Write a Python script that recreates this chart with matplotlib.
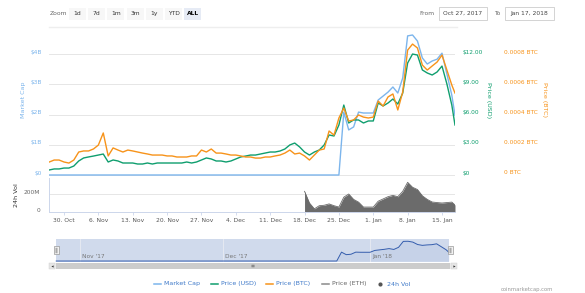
import matplotlib
matplotlib.use('Agg')
import matplotlib.pyplot as plt
import matplotlib.transforms as mtransforms
from matplotlib.patches import Rectangle
import numpy as np
import pandas as pd

plt.rcParams['font.family'] = ['DejaVu Sans']

W, H = 585, 293

# ---------------- data ----------------
dates = list(pd.date_range('2017-10-27', periods=83, freq='D')) + [pd.Timestamp('2018-01-17 15:30')]

price_usd = [0.50, 0.60, 0.60, 0.69, 0.69, 0.89, 1.39, 1.69, 1.79, 1.88,
             1.98, 2.08, 1.29, 1.49, 1.39, 1.19, 1.19, 1.19, 1.09, 1.09,
             1.19, 1.09, 1.19, 1.19, 1.19, 1.19, 1.19, 1.19, 1.29, 1.19,
             1.29, 1.49, 1.69, 1.59, 1.39, 1.39, 1.29, 1.39, 1.59, 1.79,
             1.88, 1.98, 1.98, 2.08, 2.18, 2.28, 2.28, 2.38, 2.58, 2.98,
             3.17, 2.78, 2.28, 1.98, 2.28, 2.48, 2.98, 3.97, 3.87, 4.96,
             6.94, 5.16, 5.46, 5.46, 5.16, 5.36, 5.36, 7.14, 6.85, 7.14,
             7.54, 7.04, 8.13, 11.11, 12.00, 11.90, 10.42, 10.12, 9.92, 10.22,
             10.81, 9.03, 6.94, 4.96]

price_btc = [0.000086, 0.000099, 0.000099, 0.000086, 0.000079, 0.000099, 0.000152, 0.000159, 0.000159, 0.000172,
             0.000198, 0.000278, 0.000126, 0.000179, 0.000165, 0.000152, 0.000165, 0.000159, 0.000152, 0.000145,
             0.000139, 0.000132, 0.000132, 0.000132, 0.000126, 0.000126, 0.000119, 0.000119, 0.000119, 0.000126,
             0.000126, 0.000165, 0.000152, 0.000172, 0.000145, 0.000145, 0.000139, 0.000132, 0.000132, 0.000126,
             0.000119, 0.000119, 0.000112, 0.000112, 0.000119, 0.000119, 0.000126, 0.000132, 0.000145, 0.000165,
             0.000139, 0.000145, 0.000126, 0.000099, 0.000132, 0.000165, 0.000172, 0.000291, 0.000264, 0.000377,
             0.000443, 0.000357, 0.000364, 0.000397, 0.000383, 0.000377, 0.000383, 0.000489, 0.000456, 0.000516,
             0.000536, 0.000430, 0.000549, 0.000826, 0.000866, 0.000840, 0.000727, 0.000694, 0.000721, 0.000747,
             0.000793, 0.000694, 0.000595, 0.000542]

market_cap_b = [0.0] * 60 + [2.08, 1.49, 1.59, 2.08, 2.05, 2.05, 2.05, 2.48, 2.61, 2.74,
                             2.91, 2.71, 3.21, 4.60, 4.63, 4.43, 3.87, 3.67, 3.77, 3.83,
                             4.03, 3.34, 2.64, 1.98]

volume_m = [np.nan] * 52 + [230, 100, 35, 70, 75, 90, 70, 55, 165, 200,
                            140, 110, 55, 55, 55, 120, 145, 170, 185, 170,
                            230, 330, 275, 250, 180, 140, 111, 105, 100, 105,
                            110, 78]

week_ticks = list(pd.date_range('2017-10-30', periods=12, freq='7D'))
week_labels = ['30. Oct', '6. Nov', '13. Nov', '20. Nov', '27. Nov', '4. Dec',
               '11. Dec', '18. Dec', '25. Dec', '1. Jan', '8. Jan', '15. Jan']
mc_ticks = [0, 1, 2, 3, 4]
mc_labels = ['$0', '$1B', '$2B', '$3B', '$4B']
usd_ticks = [0, 3, 6, 9, 12]
usd_labels = ['$0', '$3.00', '$6.00', '$9.00', '$12.00']
btc_ticks = [0, 0.0002, 0.0004, 0.0006, 0.0008]
btc_labels = ['0 BTC', '0.0002 BTC', '0.0004 BTC', '0.0006 BTC', '0.0008 BTC']
vol_ticks = [0, 200]
vol_labels = ['0', '200M']
nav_months = [pd.Timestamp('2017-11-01'), pd.Timestamp('2017-12-01'), pd.Timestamp('2018-01-01')]
nav_month_labels = ["Nov '17", "Dec '17", "Jan '18"]
zoom_buttons = ['1d', '7d', '1m', '3m', '1y', 'YTD', 'ALL']
legend_items = ['Market Cap', 'Price (USD)', 'Price (BTC)', 'Price (ETH)', '24h Vol']

# ---------------- style ----------------
C_MC = '#7cb5ec'
C_USD = '#0f9e6e'
C_BTC = '#f7931a'
C_ETH = '#8a8a8a'
C_VOL = '#6b6b6b'
C_GRID = '#e6e6e6'
C_AXIS = '#ccd6eb'
C_LEG = '#3d78c8'
FS = 4.3

main_xlim = (pd.Timestamp('2017-10-26 22:40'), pd.Timestamp('2018-01-17 15:36'))
nav_xlim = (pd.Timestamp('2017-10-25 11:30'), pd.Timestamp('2018-01-19 07:00'))

fig = plt.figure(figsize=(W / 100, H / 100), dpi=100)


def ax_px(x0, y0, x1, y1, **kw):
    return fig.add_axes([x0 / W, 1 - y1 / H, (x1 - x0) / W, (y1 - y0) / H], **kw)


def lift_labels(ax, px=2.5):
    off = mtransforms.ScaledTranslation(0, px / 100, fig.dpi_scale_trans)
    for lab in ax.get_yticklabels():
        lab.set_transform(lab.get_transform() + off)


ov = fig.add_axes([0, 0, 1, 1], zorder=0)
ov.set_xlim(0, W)
ov.set_ylim(H, 0)
ov.axis('off')

# top controls
ov.text(50, 13.5, 'Zoom', fontsize=FS, color='#666666', ha='left', va='center')
for i, lab in enumerate(zoom_buttons):
    bx = 69 + i * 19.2
    sel = lab == 'ALL'
    ov.add_patch(Rectangle((bx, 7.5), 17, 12, facecolor='#e6ebf5' if sel else '#f7f7f7',
                           edgecolor='none'))
    ov.text(bx + 8.5, 13.6, lab, fontsize=FS, color='#000000' if sel else '#333333',
            fontweight='bold' if sel else 'normal', ha='center', va='center')
ov.text(435, 13.5, 'From', fontsize=FS, color='#666666', ha='right', va='center')
ov.add_patch(Rectangle((439, 7), 48, 12.5, facecolor='white', edgecolor='#cccccc', lw=0.6))
ov.text(463, 13.5, 'Oct 27, 2017', fontsize=FS, color='#444444', ha='center', va='center')
ov.text(497, 13.5, 'To', fontsize=FS, color='#666666', ha='center', va='center')
ov.add_patch(Rectangle((505, 7), 49, 12.5, facecolor='white', edgecolor='#cccccc', lw=0.6))
ov.text(529.5, 13.5, 'Jan 17, 2018', fontsize=FS, color='#444444', ha='center', va='center')
ov.plot([49, 457], [27, 27], color='#eeeeee', lw=1.0)

# axis titles
ov.text(23, 100, 'Market Cap', rotation=90, fontsize=4.6, color=C_MC, ha='center', va='center')
ov.text(489, 100, 'Price (USD)', rotation=270, fontsize=4.6, color=C_USD, ha='center', va='center')
ov.text(544, 100, 'Price (BTC)', rotation=270, fontsize=4.6, color=C_BTC, ha='center', va='center')
ov.text(17, 195, '24h Vol', rotation=90, fontsize=4.6, color='#333333', ha='center', va='center')

# ---------------- main price panel ----------------
px_per_usd = 10.08
usd_lo = -2 / px_per_usd
usd_hi = 145 / px_per_usd

ax_mc = ax_px(49, 30, 455, 177)
ax_mc.patch.set_alpha(0)
ax_mc.set_xlim(main_xlim)
ax_mc.set_ylim(usd_lo / 3, usd_hi / 3)
ax_mc.set_yticks(mc_ticks)
ax_mc.set_yticklabels(mc_labels)
ax_mc.grid(axis='y', color=C_GRID, lw=0.7)
ax_mc.set_axisbelow(True)
ax_mc.tick_params(axis='y', length=0, pad=5, labelsize=4.2, labelcolor=C_MC)
ax_mc.tick_params(axis='x', bottom=False, labelbottom=False)

ax_usd = ax_mc.twinx()
ax_usd.set_ylim(usd_lo, usd_hi)
ax_usd.set_yticks(usd_ticks)
ax_usd.set_yticklabels(usd_labels)
ax_usd.tick_params(axis='y', length=0, pad=5.8, labelsize=4.2, labelcolor=C_USD)

ax_btc = ax_mc.twinx()
ax_btc.set_ylim(usd_lo / 15000, usd_hi / 15000)
ax_btc.set_yticks(btc_ticks)
ax_btc.set_yticklabels(btc_labels)
ax_btc.tick_params(axis='y', length=0, pad=35.3, labelsize=4.2, labelcolor=C_BTC)

for a in (ax_mc, ax_usd, ax_btc):
    for s in a.spines.values():
        s.set_visible(False)
    lift_labels(a)

ax_mc.plot(dates, market_cap_b, color=C_MC, lw=1.0)
ax_usd.plot(dates, price_usd, color=C_USD, lw=1.0)
ax_btc.plot(dates, price_btc, color=C_BTC, lw=1.0)

# ---------------- volume panel ----------------
ax_v = ax_px(49, 178, 455, 212)
ax_v.patch.set_alpha(0)
ax_v.set_xlim(main_xlim)
ax_v.set_ylim(0, 378)
ax_v.fill_between(dates, volume_m, 0, color=C_VOL, lw=0)
ax_v.plot(dates, volume_m, color=C_VOL, lw=0.6)
ax_v.set_yticks(vol_ticks)
ax_v.set_yticklabels(vol_labels)
ax_v.grid(axis='y', color=C_GRID, lw=0.7)
ax_v.set_axisbelow(True)
ax_v.tick_params(axis='y', length=0, pad=6.5, labelsize=4.2, labelcolor='#666666')
ax_v.set_xticks(week_ticks)
ax_v.set_xticklabels(week_labels)
ax_v.tick_params(axis='x', length=2.2, width=0.6, color=C_AXIS, pad=2.2, labelsize=FS,
                 labelcolor='#555555')
for k in ('top', 'right'):
    ax_v.spines[k].set_visible(False)
for k in ('left', 'bottom'):
    ax_v.spines[k].set_color(C_AXIS)
    ax_v.spines[k].set_linewidth(0.7)
lift_labels(ax_v, 2.0)

# ---------------- navigator ----------------
ax_n = ax_px(49, 239, 457, 262)
ax_n.set_xlim(nav_xlim)
ax_n.set_ylim(-0.23, 5.16)
ax_n.axvspan(dates[0], dates[-1], color=(102 / 255, 133 / 255, 194 / 255, 0.3), lw=0)
for m in nav_months:
    ax_n.axvline(m, color='#e9ebf2', lw=0.6)
for m, lab in zip(nav_months, nav_month_labels):
    ax_n.text(m + pd.Timedelta(hours=10), 0.22, lab, transform=ax_n.get_xaxis_transform(),
              fontsize=4.2, color='#777777', ha='left', va='center')
ax_n.fill_between(dates, market_cap_b, 0, color='#335cad', alpha=0.06, lw=0)
ax_n.plot(dates, market_cap_b, color='#335cad', lw=0.7)
ax_n.set_xticks([])
ax_n.set_yticks([])
for s in ax_n.spines.values():
    s.set_visible(False)

# ---------------- top overlay: handles, scrollbar, legend ----------------
ov2 = fig.add_axes([0, 0, 1, 1], zorder=10)
ov2.patch.set_alpha(0)
ov2.set_xlim(0, W)
ov2.set_ylim(H, 0)
ov2.axis('off')

for hx in (54.2, 448.0):
    ov2.add_patch(Rectangle((hx, 245.8), 4.6, 8.6, facecolor='#f2f2f2', edgecolor='#999999', lw=0.5))
    ov2.plot([hx + 1.7, hx + 1.7], [248, 252.5], color='#333333', lw=0.3)
    ov2.plot([hx + 2.9, hx + 2.9], [248, 252.5], color='#333333', lw=0.3)

ov2.add_patch(Rectangle((49, 263), 408, 6, facecolor='#f2f2f2', edgecolor='none'))
ov2.add_patch(Rectangle((56, 263), 394, 6, facecolor='#cccccc', edgecolor='none'))
ov2.add_patch(Rectangle((49, 263), 6, 6, facecolor='#e6e6e6', edgecolor='#cccccc', lw=0.3))
ov2.add_patch(Rectangle((451, 263), 6, 6, facecolor='#e6e6e6', edgecolor='#cccccc', lw=0.3))
ov2.plot([52], [266], marker='<', ms=1.6, color='#333333', mew=0)
ov2.plot([454], [266], marker='>', ms=1.6, color='#333333', mew=0)
for gx in (251.8, 253.0, 254.2):
    ov2.plot([gx, gx], [264.6, 267.4], color='#333333', lw=0.35)

leg_x = [154, 211, 266, 322, 380]
leg_colors = [C_MC, C_USD, C_BTC, C_ETH, '#555555']
for i, (lab, col, lx) in enumerate(zip(legend_items, leg_colors, leg_x)):
    if lab == '24h Vol':
        ov2.plot([lx], [284], marker='o', ms=3.0, color=col, mew=0)
        tx = lx + 7
    else:
        ov2.plot([lx, lx + 7], [284, 284], color=col, lw=1.1)
        tx = lx + 10
    ov2.text(tx, 284, lab, fontsize=4.5, color='#666666' if lab == 'Price (ETH)' else C_LEG,
             ha='left', va='center')

ov2.text(553, 289.5, 'coinmarketcap.com', fontsize=3.8, color='#999999', ha='right', va='center')

fig.savefig('out.png', dpi=100)
